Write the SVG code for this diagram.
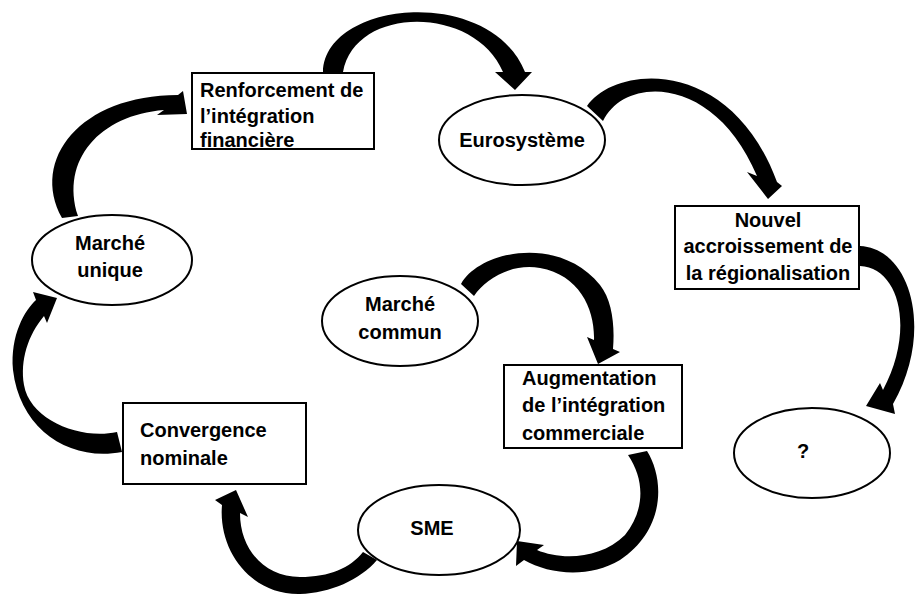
<svg xmlns="http://www.w3.org/2000/svg" width="919" height="596" viewBox="0 0 919 596">
<style>
.box{fill:#fff;stroke:#000;stroke-width:2}
.t{font-family:"Liberation Sans",Arial,sans-serif;font-weight:bold;font-size:20px;fill:#000}
.c{text-anchor:middle}
.arr{fill:#000;stroke:none}
</style>
<rect width="919" height="596" fill="#fff"/>
<g id="connectors">
<path class="arr" d="M 323 72 C 325 0, 490 -15, 525 72 L 532 72 L 515 90 L 495 72 L 503 72 C 475 5, 355 5, 343 72 Z"/>
<path class="arr" d="M 587 106 C 615 65, 730 55, 777 182 L 782 186 L 768 199 L 747 172 L 757 176 C 715 75, 625 75, 603 121 Z"/>
<path class="arr" d="M 860 246 C 910 248, 935 330, 893 404 L 895 414 L 866 406 L 880 383 L 883 390 C 915 330, 900 268, 860 266 Z"/>
<path class="arr" d="M 62 218 C 30 160, 80 95, 178 95 L 183 91 L 187 114 L 157 115 L 164 110 C 100 115, 60 160, 78 216 Z"/>
<path class="arr" d="M 122 452 C 70 462, 20 430, 13 370 C 10 335, 25 310, 36 300 L 33 292 L 57 298 L 47 323 L 44 316 C 28 335, 20 360, 24 385 C 30 420, 80 440, 117 432 Z"/>
<path class="arr" d="M 222 505 C 218 550, 250 595, 300 594 C 330 593, 360 580, 377 560 L 363 552 C 350 568, 330 577, 300 577 C 265 577, 240 550, 240 513 L 248 517 L 236 490 L 215 500 Z"/>
<path class="arr" d="M 647 451 C 665 480, 665 530, 620 560 C 590 578, 550 575, 524 560 L 516 566 L 517 541 L 544 545 L 537 550 C 560 560, 600 560, 625 535 C 645 510, 645 480, 628 455 Z"/>
<path class="arr" d="M 461 284 C 480 250, 560 235, 600 285 C 612 300, 615 325, 613 349 L 620 352 L 598 364 L 587 337 L 594 340 C 595 310, 580 275, 540 268 C 510 263, 485 280, 474 296 Z"/>
</g>
<g id="renforcement">
<rect class="box" x="192" y="73" width="182" height="76"/>
<text class="t" x="200" y="97">Renforcement de</text>
<text class="t" x="200" y="123">l’intégration</text>
<text class="t" x="200" y="147">financière</text>
</g>
<g id="eurosysteme">
<ellipse class="box" cx="522" cy="140" rx="83" ry="45"/>
<text class="t c" x="522" y="147">Eurosystème</text>
</g>
<g id="nouvel">
<rect class="box" x="675" y="206" width="184" height="83"/>
<text class="t c" x="768" y="227">Nouvel</text>
<text class="t c" x="768" y="253">accroissement de</text>
<text class="t c" x="768" y="280">la régionalisation</text>
</g>
<g id="question">
<ellipse class="box" cx="812" cy="453" rx="78" ry="45"/>
<text class="t c" x="803" y="458">?</text>
</g>
<g id="marche-unique">
<ellipse class="box" cx="112" cy="260" rx="80" ry="45"/>
<text class="t c" x="110" y="250">Marché</text>
<text class="t c" x="110" y="277">unique</text>
</g>
<g id="marche-commun">
<ellipse class="box" cx="400" cy="321" rx="78" ry="45"/>
<text class="t c" x="400" y="311">Marché</text>
<text class="t c" x="400" y="339">commun</text>
</g>
<g id="augmentation">
<rect class="box" x="504" y="365" width="178" height="83"/>
<text class="t" x="522" y="385">Augmentation</text>
<text class="t" x="522" y="412">de l’intégration</text>
<text class="t" x="522" y="440">commerciale</text>
</g>
<g id="convergence">
<rect class="box" x="123" y="403" width="183" height="81"/>
<text class="t" x="140" y="437">Convergence</text>
<text class="t" x="140" y="465">nominale</text>
</g>
<g id="sme">
<ellipse class="box" cx="439" cy="530" rx="81" ry="45"/>
<text class="t c" x="432" y="535">SME</text>
</g>
</svg>
